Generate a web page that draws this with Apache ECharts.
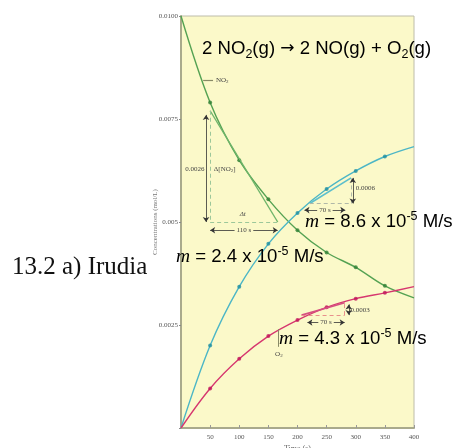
<!DOCTYPE html>
<html><head><meta charset="utf-8">
<script src="https://cdn.jsdelivr.net/npm/echarts@6/dist/echarts.min.js"></script>
<style>html,body{margin:0;padding:0;background:#fff}#c{width:456px;height:448px}</style>
</head><body><div id="c"></div>
<script>
// ---- data (time in s, concentrations in mol/L) ----
const times = [0, 50, 100, 150, 200, 250, 300, 350, 400];
const no2 = [0.0100, 0.0079, 0.0065, 0.00555, 0.0048, 0.00426, 0.0039, 0.00345, 0.00316];
const no  = [0, 0.0020, 0.00343, 0.00447, 0.00522, 0.0058, 0.00624, 0.00659, 0.00683];
const o2  = [0, 0.00096, 0.00168, 0.00223, 0.00262, 0.00293, 0.00314, 0.00328, 0.00343];
const yTickLabels = ['', '0.0025', '0.005', '0.0075', '0.0100'];
const xTickLabels = ['', '50', '100', '150', '200', '250', '300', '350', '400'];

// tangent constructions (data units)
const no2Tangent = [[50, 0.0077], [166, 0.005]];
const no2DashV = [[50, 0.0077], [50, 0.005]];
const no2DashH = [[50, 0.005], [166, 0.005]];
const no2ArrowV = [[43, 0.005], [43, 0.0076]];
const no2ArrowH = [[50, 0.0048], [166, 0.0048]];
const noTangent = [[221, 0.00545], [292, 0.00607]];
const noDashH = [[221, 0.00545], [292, 0.00545]];
const noDashV = [[292, 0.00545], [292, 0.00607]];
const noArrowV = [[295, 0.00545], [295, 0.00607]];
const noArrowH = [[212, 0.00529], [282, 0.00529]];
const o2Tangent = [[207, 0.00274], [281, 0.00304]];
const o2DashH = [[207, 0.00274], [281, 0.00274]];
const o2DashV = [[281, 0.00274], [281, 0.00304]];
const o2ArrowV = [[288, 0.00274], [288, 0.00300]];
const o2ArrowH = [[217, 0.00256], [281, 0.00256]];
const no2LabelLine = [[38, 0.00845], [55, 0.00845]];
const o2LabelLine = [[167, 0.0024], [167, 0.00197]];

const GREEN = '#55a253', CYAN = '#4cb6c6', PINK = '#d6376f';

function pairs(arr){ return arr.map((v,i)=>[times[i], v]); }
function seg(p, color, width, type, arrows){
  return [
    {coord: p[0], symbol: arrows ? 'arrow' : 'none', lineStyle: {color: color, width: width, type: type}},
    {coord: p[1], symbol: arrows ? 'arrow' : 'none'}
  ];
}

const chart = echarts.init(document.getElementById('c'), null, {renderer: 'canvas'});
const tickFont = {fontFamily: 'Liberation Serif', fontSize: 7, color: '#555'};

chart.setOption({
  animation: false,
  grid: {left: 181, right: 42, top: 16, bottom: 20, show: true, backgroundColor: '#fbf9c9', borderColor: '#bdbcaa', borderWidth: 1,
         containLabel: false, outerBoundsMode: 'none'},
  xAxis: {
    type: 'value', min: 0, max: 400, interval: 50,
    name: 'Time (s)', nameLocation: 'middle', nameGap: 17, nameMoveOverlap: false,
    nameTextStyle: {fontFamily: 'Liberation Serif', fontSize: 8, color: '#666'},
    axisLine: {lineStyle: {color: '#a9aa8c', width: 2}},
    axisTick: {inside: true, length: 3, lineStyle: {color: '#999'}},
    splitLine: {show: false},
    axisLabel: Object.assign({margin: 6, formatter: (v, i) => xTickLabels[i]}, tickFont)
  },
  yAxis: {
    type: 'value', min: 0, max: 0.01, interval: 0.0025,
    name: 'Concentrations (mol/L)', nameLocation: 'middle', nameGap: 22, nameMoveOverlap: false,
    nameTextStyle: {fontFamily: 'Liberation Serif', fontSize: 7, color: '#777'},
    axisLine: {show: true, lineStyle: {color: '#a9aa8c', width: 2}},
    axisTick: {show: true, length: 2, lineStyle: {color: '#888'}},
    splitLine: {show: false},
    axisLabel: Object.assign({margin: 3, formatter: (v, i) => yTickLabels[i]}, tickFont)
  },
  series: [
    {type: 'line', data: pairs(no2), smooth: 0.35, symbol: 'none', lineStyle: {color: GREEN, width: 1.4}, z: 3,
     markLine: {silent: true, symbol: 'none', symbolSize: 5, label: {show: false}, animation: false,
       data: [
         seg(no2Tangent, '#6fb56a', 1.4, 'solid'),
         seg(no2DashV, '#9cc79a', 1, [4, 3]),
         seg(no2DashH, '#9cc79a', 1, [4, 3]),
         seg(no2ArrowV, '#333', 0.8, 'solid', true),
         seg(no2ArrowH, '#333', 0.8, 'solid', true),
         seg(no2LabelLine, '#888a66', 1.2, 'solid')
       ]}},
    {type: 'line', data: pairs(no), smooth: 0.35, symbol: 'none', lineStyle: {color: CYAN, width: 1.4}, z: 3,
     markLine: {silent: true, symbol: 'none', symbolSize: 5, label: {show: false}, animation: false,
       data: [
         seg(noTangent, '#5cbfcc', 1.6, 'solid'),
         seg(noDashH, '#b0b8a8', 1, [4, 3]),
         seg(noDashV, '#b0b8a8', 1, [4, 3]),
         seg(noArrowV, '#333', 0.8, 'solid', true),
         seg(noArrowH, '#333', 0.8, 'solid', true)
       ]}},
    {type: 'line', data: pairs(o2), smooth: 0.35, symbol: 'none', lineStyle: {color: PINK, width: 1.4}, z: 3,
     markLine: {silent: true, symbol: 'none', symbolSize: 5, label: {show: false}, animation: false,
       data: [
         seg(o2Tangent, '#d64f80', 1.8, 'solid'),
         seg(o2DashH, '#e8908c', 1, [4, 3]),
         seg(o2DashV, '#e8908c', 1, [4, 3]),
         seg(o2ArrowV, '#333', 0.8, 'solid', true),
         seg(o2ArrowH, '#333', 0.8, 'solid', true),
         seg(o2LabelLine, '#888a66', 1, 'solid')
       ]}},
    {type: 'scatter', data: pairs(no2).slice(1, 8), symbolSize: 4, itemStyle: {color: '#2f7f35'}, z: 4},
    {type: 'scatter', data: pairs(no).slice(1, 8), symbolSize: 4, itemStyle: {color: '#1e8fa0'}, z: 4},
    {type: 'scatter', data: pairs(o2).slice(1, 8), symbolSize: 4, itemStyle: {color: '#c0145a'}, z: 4}
  ]
});

// small annotation labels anchored in data coordinates
const annos = [
  {t: 24, c: 0.00629, text: '0.0026', align: 'center'},
  {t: 75, c: 0.00629, text: '{n|Δ[NO}{s|2}{n|]}', align: 'center'},
  {t: 106, c: 0.0052, text: '{i|Δt}', align: 'center'},
  {t: 108, c: 0.0048, text: '110 s', align: 'center', bg: true},
  {t: 300, c: 0.00583, text: '0.0006', align: 'left'},
  {t: 247, c: 0.00529, text: '70 s', align: 'center', bg: true},
  {t: 291, c: 0.00287, text: '0.0003', align: 'left'},
  {t: 249, c: 0.00256, text: '70 s', align: 'center', bg: true},
  {t: 60, c: 0.00845, text: '{n|NO}{s|2}', align: 'left'},
  {t: 168, c: 0.0018, text: '{n|O}{s|2}', align: 'center'}
];
const smallRich = {
  n: {fontFamily: 'Liberation Serif', fontSize: 7, color: '#444', lineHeight: 9},
  s: {fontFamily: 'Liberation Serif', fontSize: 5, color: '#444', lineHeight: 5, verticalAlign: 'bottom'},
  i: {fontFamily: 'Liberation Serif', fontStyle: 'italic', fontSize: 7, color: '#444', lineHeight: 9}
};
const graphics = annos.map(a => {
  const p = chart.convertToPixel({gridIndex: 0}, [a.t, a.c]);
  return {type: 'text', x: p[0], y: p[1], z: 10, silent: true,
    style: {text: a.text, align: a.align, verticalAlign: 'middle', fontFamily: 'Liberation Serif', fontSize: 7, fill: '#444',
      rich: smallRich, backgroundColor: a.bg ? '#fbf9c9' : null, padding: a.bg ? [0, 2] : 0}};
});

const big = {
  a: {fontFamily: 'Liberation Sans', fontSize: 18.6, color: '#111', lineHeight: 24},
  r: {fontFamily: 'DejaVu Sans', fontSize: 17, color: '#111', lineHeight: 24},
  s: {fontFamily: 'Liberation Sans', fontSize: 12.5, color: '#111', lineHeight: 12, verticalAlign: 'bottom'},
  u: {fontFamily: 'Liberation Sans', fontSize: 12.5, color: '#111', lineHeight: 12, verticalAlign: 'top'},
  m: {fontFamily: 'Liberation Serif', fontStyle: 'italic', fontSize: 19.5, color: '#111', lineHeight: 24}
};
function bigText(x, y, text){
  return {type: 'text', x: x, y: y, z: 20, silent: true, style: {text: text, rich: big, align: 'left', verticalAlign: 'top'}};
}
graphics.push(bigText(202, 37, '{a|2 NO}{s|2}{a|(g) }{r|→}{a| 2 NO(g) + O}{s|2}{a|(g)}'));
graphics.push(bigText(305, 210, '{m|m}{a| = 8.6 x 10}{u|-5}{a| M/s}'));
graphics.push(bigText(176, 245, '{m|m}{a| = 2.4 x 10}{u|-5}{a| M/s}'));
graphics.push(bigText(279, 327, '{m|m}{a| = 4.3 x 10}{u|-5}{a| M/s}'));
graphics.push({type: 'text', x: 12, y: 255, z: 20, silent: true,
  style: {text: '13.2 a) Irudia', fontFamily: 'Liberation Serif', fontSize: 25, fill: '#111', align: 'left', verticalAlign: 'alphabetic'}});

chart.setOption({graphic: graphics});
</script>
</body></html>
